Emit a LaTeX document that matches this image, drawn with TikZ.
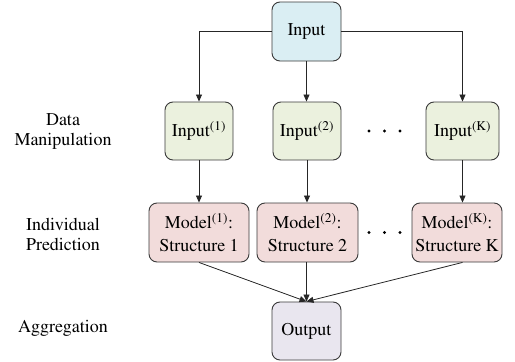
\documentclass[tikz,border=0pt]{standalone}
\usepackage[T1]{fontenc}
\usepackage{mathptmx}
\usetikzlibrary{arrows.meta,calc}
\definecolor{bluefill}{HTML}{DAEEF3}
\definecolor{greenfill}{HTML}{EBF1DE}
\definecolor{redfill}{HTML}{F2DCDB}
\definecolor{purplefill}{HTML}{E9E6EF}
\definecolor{boxline}{HTML}{3A3A3A}
\begin{document}
\begin{tikzpicture}[x=1pt,y=-1pt,
  font=\rmfamily\fontsize{18}{20}\selectfont,
  box/.style={draw=boxline, line width=0.9pt, rounded corners=8pt, inner sep=0pt, align=center, minimum height=58pt},
  inbox/.style={box, fill=greenfill},
  modbox/.style={box, fill=redfill, minimum height=59pt},
  lbl/.style={align=center, inner sep=0pt},
  arr/.style={-{Triangle[length=7pt,width=6pt]}, line width=0.8pt, draw=black!85},
  dotnode/.style={circle, fill=black, inner sep=0pt, minimum size=3.4pt}]
\useasboundingbox (0,0) rectangle (515,362);

\node[box, fill=bluefill, minimum width=69pt, minimum height=59pt] (in) at (306.5,31.5) {Input};

\node[inbox, minimum width=68pt] (in1) at (199,131) {Input\textsuperscript{(1)}};
\node[inbox, minimum width=68pt] (in2) at (307,131) {Input\textsuperscript{(2)}};
\node[inbox, minimum width=73pt] (ink) at (462.5,131) {Input\textsuperscript{(K)}};

\node[modbox, minimum width=100pt] (m1) at (199,232.5) {Model\textsuperscript{(1)}:\\[3pt]Structure 1};
\node[modbox, minimum width=101pt] (m2) at (307.5,232.5) {Model\textsuperscript{(2)}:\\[3pt]Structure 2};
\node[modbox, minimum width=90pt] (mk) at (457,232.5) {Model\textsuperscript{(K)}:\\[3pt]Structure K};

\node[box, fill=purplefill, minimum width=69pt, minimum height=58pt] (out) at (306.5,331) {Output};

\node[dotnode] (da1) at (369,131) {};
\node[dotnode] (da2) at (384.5,131) {};
\node[dotnode] (da3) at (400,131) {};
\node[dotnode] (db1) at (369,232.5) {};
\node[dotnode] (db2) at (384.5,232.5) {};
\node[dotnode] (db3) at (400,232.5) {};

\node[lbl] (l1) at (63,132) {Data\\Manipulation};
\node[lbl] (l2) at (63,234) {Individual\\Prediction};
\node[lbl] (l3) at (63,328) {Aggregation};

\draw[arr] (in.west) -| (in1.north);
\draw[arr] (in.south) -- (in.south |- in2.north);
\draw[arr] (in.east) -| (ink.north);

\draw[arr] (in1.south) -- (in1.south |- m1.north);
\draw[arr] (in2.south) -- (in2.south |- m2.north);
\draw[arr] (ink.south) -- (ink.south |- mk.north);

\draw[arr] (m1.south) -- (out.north);
\draw[arr] (m2.south -| out.north) -- (out.north);
\draw[arr] (ink.south |- mk.south) -- (out.north);
\end{tikzpicture}
\end{document}
